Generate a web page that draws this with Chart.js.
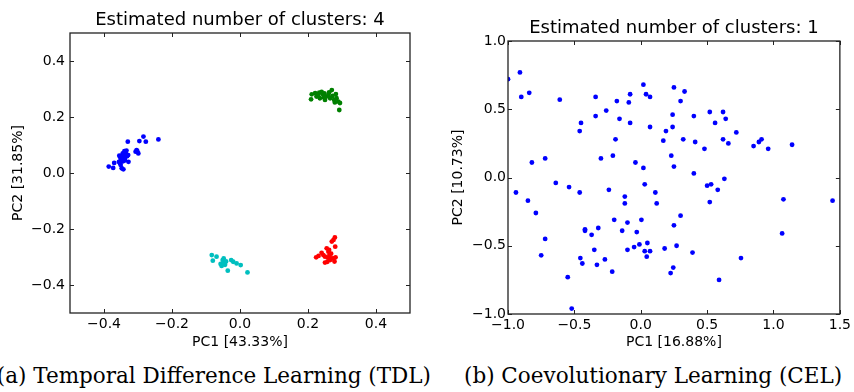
<!DOCTYPE html>
<html>
<head>
<meta charset="utf-8">
<script src="https://cdn.jsdelivr.net/npm/chart.js@4.4.1/dist/chart.umd.min.js"></script>
<style>
  body { margin: 0; background: #fff; width: 854px; height: 392px; position: relative; overflow: hidden; }
  canvas { position: absolute; top: 0; }
  #tdl { left: 0; }
  #cel { left: 430px; }
  .cap { position: absolute; top: 364px; font-family: "DejaVu Serif", serif; font-size: 21.5px; line-height: 24px; white-space: nowrap; color: #000; }
  #capa { right: 423px; text-align: right; }
  #capb { left: 464px; }
</style>
</head>
<body>
<canvas id="tdl" width="430" height="355"></canvas>
<canvas id="cel" width="424" height="355"></canvas>
<div class="cap" id="capa">(a) Temporal Difference Learning (TDL)</div>
<div class="cap" id="capb">(b) Coevolutionary Learning (CEL)</div>
<script>
// ---- data ----
const tdlBlue = [[-0.386,0.023],[-0.373,0.018],[-0.370,0.036],[-0.351,0.029],[-0.348,0.017],[-0.343,0.013],
  [-0.352,0.055],[-0.355,0.062],[-0.346,0.060],[-0.350,0.048],[-0.342,0.066],[-0.339,0.053],
  [-0.336,0.072],[-0.334,0.080],[-0.344,0.042],[-0.338,0.045],[-0.332,0.060],[-0.345,0.070],
  [-0.330,0.112],[-0.328,0.040],[-0.304,0.082],[-0.299,0.070],[-0.307,0.076],[-0.302,0.078],
  [-0.296,0.114],[-0.284,0.130],[-0.277,0.112],[-0.240,0.120],[-0.353,0.035],[-0.329,0.064],
  [-0.340,0.078],[-0.356,0.040]]
const tdlGreen = [[0.209,0.263],[0.211,0.281],[0.221,0.285],[0.225,0.273],[0.230,0.279],[0.233,0.287],
  [0.235,0.267],[0.240,0.290],[0.243,0.282],[0.247,0.270],[0.250,0.261],[0.253,0.273],[0.260,0.279],
  [0.265,0.267],[0.270,0.296],[0.272,0.275],[0.277,0.261],[0.282,0.282],[0.284,0.267],[0.289,0.255],
  [0.294,0.250],[0.292,0.225],[0.262,0.288],[0.279,0.252],[0.248,0.284]]
const tdlCyan = [[-0.083,-0.293],[-0.069,-0.299],[-0.080,-0.313],[-0.057,-0.325],[-0.051,-0.311],
  [-0.047,-0.320],[-0.044,-0.328],[-0.041,-0.316],[-0.054,-0.332],[-0.036,-0.349],[-0.026,-0.311],
  [-0.020,-0.317],[-0.010,-0.323],[0.002,-0.329],[0.022,-0.355],[-0.048,-0.305]]
const tdlRed = [[0.224,-0.301],[0.231,-0.296],[0.240,-0.285],[0.245,-0.293],[0.250,-0.299],[0.255,-0.269],
  [0.260,-0.281],[0.263,-0.293],[0.265,-0.311],[0.257,-0.317],[0.250,-0.320],[0.269,-0.305],
  [0.270,-0.245],[0.275,-0.239],[0.279,-0.230],[0.280,-0.263],[0.275,-0.305],[0.281,-0.301],
  [0.278,-0.316],[0.262,-0.275],[0.258,-0.302],[0.268,-0.288]]
const celPoints = [[-1.00,0.72],[-0.91,0.77],[-0.90,0.59],[-0.84,0.62],[-0.82,0.11],[-0.72,0.14],
  [-0.61,0.57],[-0.64,-0.04],[-0.54,-0.07],[-0.46,0.34],[-0.45,0.40],[-0.46,-0.11],[-0.34,0.59],
  [-0.34,0.45],[-0.26,0.49],[-0.30,0.14],[-0.24,-0.09],[-0.21,0.16],[-0.18,0.56],[-0.16,0.43],
  [-0.19,0.28],[-0.09,0.55],[-0.08,0.61],[-0.08,0.40],[-0.12,-0.14],[-0.04,0.11],[0.02,0.07],
  [0.02,0.68],[0.04,0.61],[0.07,0.59],[0.07,0.37],[0.03,-0.05],[0.11,-0.11],[0.17,0.27],[0.19,0.34],
  [0.24,0.46],[0.25,0.66],[0.24,0.37],[0.30,0.56],[0.33,0.63],[0.32,0.28],[0.23,0.16],[0.25,0.08],
  [0.40,0.45],[0.41,0.26],[0.40,0.03],[0.48,0.21],[0.52,0.48],[0.56,0.40],[0.62,0.48],[0.64,0.43],
  [0.62,0.28],[0.66,0.25],[0.72,0.33],[0.50,-0.06],[0.53,-0.05],[0.58,-0.09],[0.63,-0.01],[0.85,0.23],
  [0.89,0.26],[0.91,0.28],[0.96,0.21],[1.14,0.24],[1.075,-0.16],[1.445,-0.17],[-0.94,-0.11],
  [-0.85,-0.17],[-0.79,-0.26],[-0.72,-0.45],[-0.75,-0.57],[-0.12,-0.19],[0.12,-0.19],[-0.20,-0.31],
  [-0.10,-0.33],[-0.14,-0.39],[-0.03,-0.40],[0.005,-0.31],[-0.42,-0.38],[-0.42,-0.39],[-0.32,-0.37],
  [-0.37,-0.42],[-0.35,-0.53],[-0.10,-0.53],[-0.05,-0.51],[-0.01,-0.49],[0.05,-0.48],[0.03,-0.54],
  [0.07,-0.54],[0.045,-0.58],[0.18,-0.52],[0.25,-0.35],[0.30,-0.28],[0.27,-0.50],[0.39,-0.55],
  [0.245,-0.66],[0.225,-0.70],[0.52,-0.18],[0.59,-0.75],[0.755,-0.59],[1.065,-0.41],[-0.455,-0.59],
  [-0.44,-0.63],[-0.33,-0.64],[-0.27,-0.60],[-0.215,-0.69],[-0.55,-0.73],[-0.52,-0.96]]

const tdlXTicks = [-0.4,-0.2,0.0,0.2,0.4]
const tdlXLabels = ['\u22120.4','\u22120.2','0.0','0.2','0.4']
const tdlYTicks = [-0.4,-0.2,0.0,0.2,0.4]
const tdlYLabels = ['\u22120.4','\u22120.2','0.0','0.2','0.4']
const celXTicks = [-1.0,-0.5,0.0,0.5,1.0,1.5]
const celXLabels = ['\u22121.0','\u22120.5','0.0','0.5','1.0','1.5']
const celYTicks = [-1.0,-0.5,0.0,0.5,1.0]
const celYLabels = ['\u22121.0','\u22120.5','0.0','0.5','1.0']

Chart.defaults.font.family = "'DejaVu Sans', sans-serif"
Chart.defaults.color = '#000'

// inward tick marks on all 4 sides + box frame + title centred on the axes, like matplotlib
const frameTicks = {
  id: 'frameTicks',
  afterDatasetsDraw(chart, args, opts) {
    const {ctx, chartArea: a, scales} = chart
    const x = scales.x, y = scales.y
    ctx.save()
    ctx.strokeStyle = '#222'
    ctx.lineWidth = 1
    ctx.beginPath()
    x.ticks.forEach(t => {
      const p = Math.round(x.getPixelForValue(t.value)) + 0.5
      ctx.moveTo(p, a.bottom); ctx.lineTo(p, a.bottom - 4)
      ctx.moveTo(p, a.top); ctx.lineTo(p, a.top + 4)
    })
    y.ticks.forEach(t => {
      const p = Math.round(y.getPixelForValue(t.value)) + 0.5
      ctx.moveTo(a.left, p); ctx.lineTo(a.left + 4, p)
      ctx.moveTo(a.right, p); ctx.lineTo(a.right - 4, p)
    })
    ctx.stroke()
    ctx.lineWidth = 1.3
    ctx.strokeRect(a.left, a.top, a.right - a.left, a.bottom - a.top)
    ctx.fillStyle = '#000'
    ctx.font = "18px 'DejaVu Sans', sans-serif"
    ctx.textAlign = 'center'
    ctx.textBaseline = 'middle'
    ctx.fillText(opts.text, (a.left + a.right) / 2, a.top - 13)
    ctx.restore()
  }
}

function pts(arr) { return arr.map(p => ({x: p[0], y: p[1]})) }
function ds(arr, color) {
  return { data: pts(arr), backgroundColor: color, borderWidth: 0, pointRadius: 2.4, pointHoverRadius: 2.4 }
}

function makeChart(id, datasets, o) {
  return new Chart(document.getElementById(id), {
    type: 'scatter',
    data: { datasets: datasets },
    plugins: [frameTicks],
    options: {
      responsive: false,
      animation: false,
      devicePixelRatio: 1,
      events: [],
      layout: { padding: { left: 0, right: o.padRight, top: o.padTop, bottom: 0 } },
      plugins: {
        legend: { display: false },
        tooltip: { enabled: false },
        title: { display: false },
        frameTicks: { text: o.title }
      },
      scales: {
        x: {
          type: 'linear', min: o.xMin, max: o.xMax,
          afterBuildTicks: s => { s.ticks = o.xTicks.map(v => ({ value: v })) },
          afterFit: s => { s.height = o.xHeight },
          ticks: { autoSkip: false, maxRotation: 0, padding: 3, font: { size: 14 }, color: '#000',
                   callback: (v, i) => o.xLabels[i] },
          grid: { display: false, drawTicks: false },
          border: { display: false },
          title: { display: true, text: o.xTitle, font: { size: 14 }, color: '#000', padding: { top: 0, bottom: 4.6 } }
        },
        y: {
          type: 'linear', min: o.yMin, max: o.yMax,
          afterBuildTicks: s => { s.ticks = o.yTicks.map(v => ({ value: v })) },
          afterFit: s => { s.width = o.yWidth },
          ticks: { autoSkip: false, padding: o.yPad, font: { size: 14 }, color: '#000',
                   callback: (v, i) => o.yLabels[i] },
          grid: { display: false, drawTicks: false },
          border: { display: false },
          title: { display: true, text: o.yTitle, font: { size: 14 }, color: '#000', padding: { top: o.yTitlePad, bottom: 0 } }
        }
      }
    }
  })
}

makeChart('tdl', [ds(tdlBlue, '#0000ff'), ds(tdlGreen, '#008000'), ds(tdlCyan, '#00bfbf'), ds(tdlRed, '#ff0000')], {
  title: 'Estimated number of clusters: 4', padTop: 33,
  padRight: 20, xMin: -0.5, xMax: 0.5, yMin: -0.5, yMax: 0.5,
  xTicks: tdlXTicks, xLabels: tdlXLabels, yTicks: tdlYTicks, yLabels: tdlYLabels,
  xHeight: 42, yWidth: 70, yPad: 5, yTitlePad: 10,
  xTitle: 'PC1 [43.33%]', yTitle: 'PC2 [31.85%]'
})

makeChart('cel', [ds(celPoints, '#0000ff')], {
  title: 'Estimated number of clusters: 1', padTop: 41,
  padRight: 14, xMin: -1.0, xMax: 1.5, yMin: -1.0, yMax: 1.0,
  xTicks: celXTicks, xLabels: celXLabels, yTicks: celYTicks, yLabels: celYLabels,
  xHeight: 41, yWidth: 78, yPad: 2, yTitlePad: 20,
  xTitle: 'PC1 [16.88%]', yTitle: 'PC2 [10.73%]'
})
</script>
</body>
</html>
